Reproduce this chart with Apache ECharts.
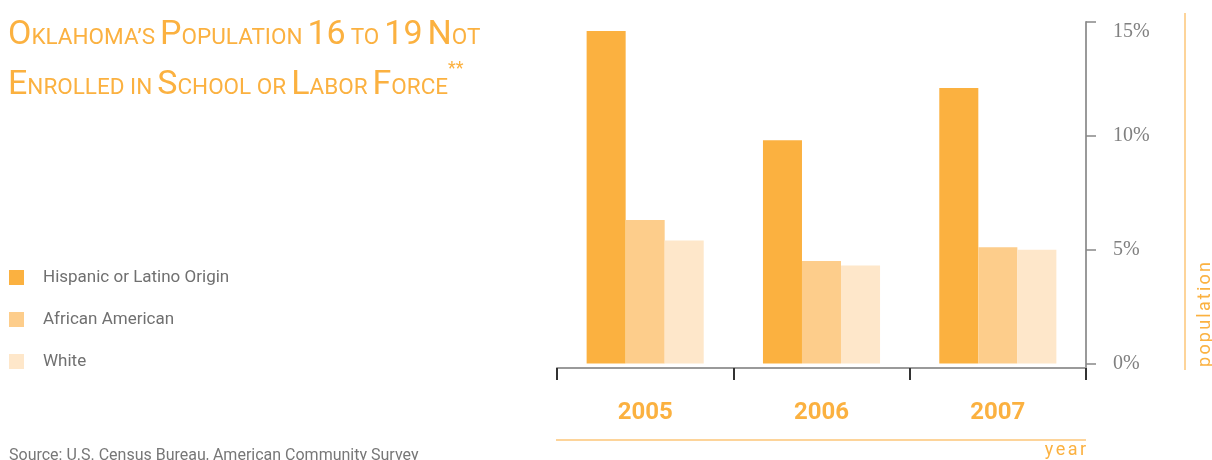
<!DOCTYPE html>
<html>
<head>
<meta charset="utf-8">
<script src="https://cdn.jsdelivr.net/npm/echarts@6/dist/echarts.min.js"></script>
<style>
  html, body { margin: 0; padding: 0; background: #fff; }
  #chart { width: 1212px; height: 460px; }
</style>
</head>
<body>
<div id="chart"></div>
<script>
const years = ['2005', '2006', '2007']
const hispanic = [14.6, 9.8, 12.1]
const african = [6.3, 4.5, 5.1]
const white = [5.4, 4.3, 5.0]
const yTicks = [0, 5, 10, 15]

const orange = '#fbb140'
const narrow = 'Roboto, sans-serif'

const chart = echarts.init(document.getElementById('chart'))

// letter-spaced text helper (rich tokens, one per letter)
function spaced(word) {
  return word.split('').map(ch => '{l|' + ch + '}').join('')
}

chart.setOption({
  animation: false,
  title: [{
    left: 8,
    top: 2,
    padding: 0,
    text: '{c|O}{s|KLAHOMA\u2019S} {c|P}{s|OPULATION} {c|16} {s|TO} {c|19} {c|N}{s|OT}\n' +
          '{c|E}{s|NROLLED IN} {c|S}{s|CHOOL OR} {c|L}{s|ABOR} {c|F}{s|ORCE}{p|**}',
    textStyle: {
      rich: {
        c: { fontSize: 34, fontWeight: 'normal', fontFamily: narrow, color: orange, lineHeight: 50, verticalAlign: 'bottom' },
        s: { fontSize: 22.5, fontWeight: 'normal', fontFamily: narrow, color: orange, lineHeight: 50, verticalAlign: 'bottom', padding: [0, 0, 2, 0] },
        p: { fontSize: 18, fontWeight: 'normal', fontFamily: narrow, color: orange, lineHeight: 50, verticalAlign: 'top', padding: [8, 0, 0, 0] }
      }
    }
  }, {
    left: 9,
    top: 448,
    padding: 0,
    text: 'Source: U.S. Census Bureau, American Community Survey',
    textStyle: { fontSize: 16, fontWeight: 'normal', fontFamily: narrow, color: '#777' }
  }],
  legend: {
    orient: 'vertical',
    left: 9,
    top: 269,
    padding: 0,
    itemWidth: 15,
    itemHeight: 15,
    itemGap: 25,
    icon: 'rect',
    textStyle: { fontSize: 17, fontFamily: narrow, color: '#707070', padding: [0, 0, 0, 14] },
    data: ['Hispanic or Latino Origin', 'African American', 'White']
  },
  grid: { left: 557, right: 126, top: 22, bottom: 92 },
  xAxis: {
    type: 'category',
    data: years,
    axisLine: { onZero: false, lineStyle: { color: '#9a9a9a', width: 2 } },
    axisTick: { show: true, length: 12, lineStyle: { color: '#333', width: 2 } },
    axisLabel: { margin: 33, fontSize: 24, fontWeight: 'bold', fontFamily: narrow, color: orange }
  },
  yAxis: {
    type: 'value',
    position: 'right',
    min: -0.2,
    max: 15,
    splitLine: { show: false },
    axisLine: { show: true, lineStyle: { color: '#9a9a9a', width: 2 } },
    axisTick: { show: true, length: 10, customValues: yTicks, lineStyle: { color: '#888', width: 1.5 } },
    axisLabel: {
      margin: 27,
      customValues: yTicks,
      fontSize: 20,
      fontFamily: '"Liberation Serif", serif',
      color: '#808080',
      formatter: function (v) {
        return v === 15 ? '{t|15%}' : v + '%'
      },
      rich: { t: { fontSize: 20, fontFamily: '"Liberation Serif", serif', color: '#808080', padding: [20, 0, 0, 0] } }
    }
  },
  graphic: [
    { type: 'line', shape: { x1: 1185, y1: 13, x2: 1185, y2: 370 }, style: { stroke: '#fdd49a', lineWidth: 2 } },
    { type: 'line', shape: { x1: 556, y1: 440, x2: 1086, y2: 440 }, style: { stroke: '#fdd49a', lineWidth: 2 } },
    {
      type: 'text', right: 126, top: 441,
      style: { text: spaced('year'), rich: { l: { fontSize: 18, fontFamily: narrow, fill: orange, padding: [0, 1.2, 0, 1.2] } } }
    },
    {
      type: 'text', x: 1196, y: 368, rotation: Math.PI / 2,
      style: { text: spaced('population'), rich: { l: { fontSize: 18, fontFamily: narrow, fill: orange, padding: [0, 1.1, 0, 1.1] } } }
    }
  ],
  series: [
    { name: 'Hispanic or Latino Origin', type: 'bar', data: hispanic, barGap: 0, barCategoryGap: '33.6%', itemStyle: { color: '#fbb140' } },
    { name: 'African American', type: 'bar', data: african, itemStyle: { color: '#fdcd8b' } },
    { name: 'White', type: 'bar', data: white, itemStyle: { color: '#fee7ca' } }
  ]
})
</script>
</body>
</html>
